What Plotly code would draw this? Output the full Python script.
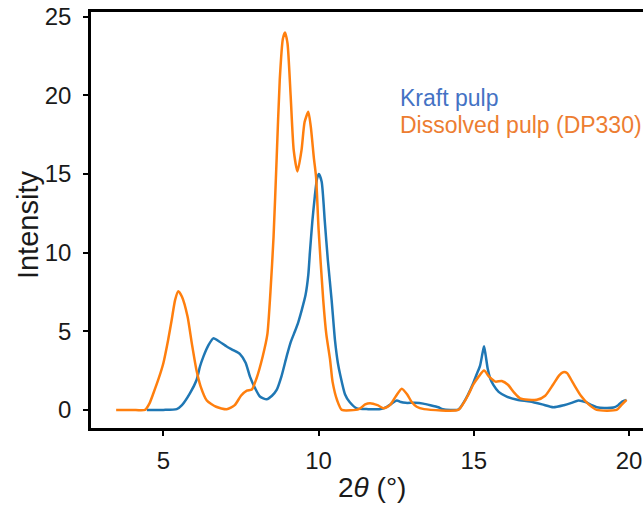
import plotly.graph_objects as go

# Kraft pulp (blue)
kraft_x = [4.47, 5.0, 5.43, 5.6, 5.86, 6.07, 6.18, 6.29, 6.45, 6.61, 6.8, 7.04, 7.25, 7.47, 7.65, 7.79, 7.95, 8.11, 8.33, 8.5, 8.65, 8.8, 8.97, 9.1, 9.24, 9.35, 9.46, 9.58, 9.67, 9.72, 9.8, 9.88, 9.95, 10.01, 10.1, 10.2, 10.3, 10.42, 10.53, 10.62, 10.7, 10.85, 11.0, 11.23, 11.6, 12.0, 12.2, 12.35, 12.52, 12.65, 12.8, 13.1, 13.37, 13.6, 13.86, 14.0, 14.5, 14.66, 14.82, 14.98, 15.1, 15.2, 15.28, 15.33, 15.38, 15.45, 15.53, 15.63, 15.8, 16.06, 16.4, 16.81, 17.2, 17.56, 17.9, 18.15, 18.37, 18.6, 18.8, 18.96, 19.2, 19.5, 19.65, 19.78, 19.92]
kraft_y = [0.0, 0.0, 0.05, 0.3, 1.06, 1.9, 2.76, 3.39, 4.1, 4.55, 4.35, 4.03, 3.8, 3.55, 3.0, 2.12, 1.4, 0.85, 0.68, 0.9, 1.27, 2.1, 3.39, 4.3, 5.0, 5.6, 6.36, 7.3, 8.6, 10.0, 12.0, 13.6, 14.7, 15.0, 14.5, 12.0, 9.5, 7.0, 4.4, 3.0, 2.2, 1.0, 0.5, 0.1, 0.05, 0.05, 0.2, 0.4, 0.6, 0.5, 0.45, 0.45, 0.4, 0.3, 0.17, 0.05, 0.02, 0.43, 1.0, 1.7, 2.3, 2.8, 3.6, 4.05, 3.5, 2.6, 2.0, 1.59, 1.15, 0.85, 0.65, 0.53, 0.35, 0.17, 0.3, 0.45, 0.6, 0.5, 0.3, 0.17, 0.12, 0.15, 0.3, 0.53, 0.64]

# Dissolved pulp (DP330) (orange)
diss_x = [3.48, 4.0, 4.41, 4.55, 4.68, 4.85, 5.0, 5.15, 5.27, 5.38, 5.48, 5.6, 5.78, 5.92, 6.07, 6.2, 6.4, 6.7, 7.04, 7.3, 7.5, 7.69, 7.85, 8.0, 8.2, 8.35, 8.45, 8.55, 8.65, 8.75, 8.85, 8.92, 9.0, 9.1, 9.2, 9.32, 9.45, 9.55, 9.67, 9.75, 9.85, 9.92, 10.0, 10.15, 10.25, 10.37, 10.45, 10.6, 10.75, 11.3, 11.5, 11.66, 11.9, 12.1, 12.3, 12.5, 12.68, 12.85, 13.0, 13.16, 13.4, 14.5, 14.66, 14.82, 14.98, 15.15, 15.33, 15.5, 15.7, 15.9, 16.1, 16.3, 16.49, 17.03, 17.3, 17.55, 17.75, 17.88, 18.0, 18.2, 18.45, 18.7, 18.96, 19.6, 19.75, 19.92]
diss_y = [0.0, 0.0, 0.0, 0.4, 1.06, 2.0, 2.97, 4.4, 5.73, 7.0, 7.55, 7.2, 5.94, 4.2, 2.5, 1.5, 0.6, 0.2, 0.04, 0.3, 0.9, 1.23, 1.3, 2.0, 3.4, 4.8, 7.5, 11.0, 16.0, 21.0, 23.6, 24.0, 23.3, 20.0, 16.5, 15.16, 16.5, 18.3, 18.95, 18.0, 16.0, 14.8, 11.5, 7.0, 4.8, 3.2, 1.8, 0.6, 0.0, 0.05, 0.35, 0.43, 0.3, 0.1, 0.3, 0.9, 1.35, 1.0, 0.5, 0.2, 0.05, 0.0, 0.4, 0.95, 1.6, 2.1, 2.5, 2.1, 1.8, 1.84, 1.6, 1.1, 0.74, 0.64, 0.9, 1.6, 2.2, 2.4, 2.35, 1.7, 0.9, 0.35, 0.0, 0.0, 0.3, 0.64]

x_ticks = [5, 10, 15, 20]
y_ticks = [0, 5, 10, 15, 20, 25]
names = ["Kraft pulp", "Dissolved pulp (DP330)"]

FONT = "Liberation Sans, Arial, sans-serif"
fig = go.Figure()
fig.add_trace(go.Scatter(x=kraft_x, y=kraft_y, mode="lines", name=names[0],
                         line=dict(color="#1f77b4", width=2.5, shape="spline", smoothing=0.6),
                         showlegend=False))
fig.add_trace(go.Scatter(x=diss_x, y=diss_y, mode="lines", name=names[1],
                         line=dict(color="#ff7f0e", width=2.5, shape="spline", smoothing=0.6),
                         showlegend=False))

fig.update_layout(
    width=643, height=506,
    margin=dict(l=91, r=0, t=12, b=78),
    paper_bgcolor="white", plot_bgcolor="white",
    font=dict(family=FONT, color="#1a1a1a"),
    xaxis=dict(range=[2.67, 20.45], tickvals=x_ticks, showgrid=False, zeroline=False,
               showline=True, linecolor="black", linewidth=2.5, mirror=True,
               ticks="outside", ticklen=5, tickwidth=1.5, tickcolor="black",
               tickfont=dict(size=24, family=FONT, color="#1a1a1a"), ticklabelstandoff=4),
    yaxis=dict(range=[-1.15, 25.3], tickvals=y_ticks, showgrid=False, zeroline=False,
               showline=True, linecolor="black", linewidth=2.5,
               ticks="outside", ticklen=5, tickwidth=1.5, tickcolor="black",
               tickfont=dict(size=24, family=FONT, color="#1a1a1a"), ticklabelstandoff=7),
    annotations=[
        dict(text="Intensity", xref="paper", yref="paper", x=-0.114, y=0.488,
             textangle=-90, showarrow=False, font=dict(size=29, family=FONT, color="#1a1a1a"),
             xanchor="center", yanchor="middle"),
        dict(text="2<i>θ</i> (°)", xref="paper", yref="paper", x=0.509, y=-0.144,
             showarrow=False, font=dict(size=28, family=FONT, color="#1a1a1a"),
             xanchor="center", yanchor="middle"),
        dict(text=names[0], x=12.56, y=19.85, xref="x", yref="y", showarrow=False,
             xanchor="left", yanchor="middle", font=dict(size=23, family=FONT, color="#4472c4")),
        dict(text=names[1], x=12.56, y=18.13, xref="x", yref="y", showarrow=False,
             xanchor="left", yanchor="middle", font=dict(size=23, family=FONT, color="#ed7d31")),
    ],
)

fig.write_html("out.html")
